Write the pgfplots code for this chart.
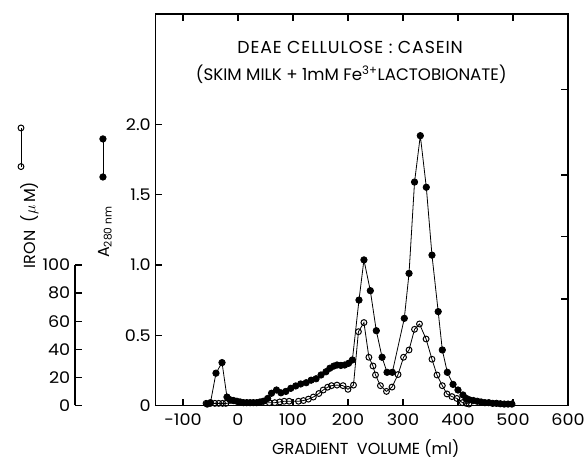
\documentclass[border=0pt]{standalone}
\usepackage{pgfplots}
\usepackage{pgfplotstable}
\pgfplotsset{compat=1.18}
\usepackage{fontspec}
\setmainfont{Poppins}
\newfontfamily\tickfont{Poppins}[FakeStretch=1.1]
\newfontfamily\titlefont{Poppins}[LetterSpace=5]

\pgfplotstableread{
x y
-56 0.01
-50 0.02
-40 0.23
-29 0.305
-20 0.06
-14 0.04
-8 0.035
-2 0.03
4 0.025
10 0.02
16 0.02
22 0.02
28 0.02
34 0.02
40 0.025
46 0.03
54 0.05
61 0.087
70 0.11
78 0.09
87 0.10
96 0.122
105 0.139
114 0.153
124 0.162
133 0.18
142 0.19
151 0.217
160 0.24
167 0.265
174 0.28
180 0.288
187 0.285
194 0.288
201 0.30
208 0.324
220 0.75
229 1.036
240.6 0.817
251.5 0.532
262 0.343
271 0.236
280.6 0.236
302.4 0.62
311 0.94
321 1.59
331.5 1.92
342.4 1.553
352.7 1.07
364 0.668
371.5 0.395
380.6 0.236
391 0.15
400 0.11
409 0.075
415 0.05
421 0.04
428 0.035
435 0.03
442 0.025
449 0.02
456 0.02
463 0.015
470 0.015
477 0.012
484 0.01
491 0.01
498 0.01
}\absorb

\pgfplotstableread{
x y
-58 1.5
-50 1.5
-42 1.5
-35 1.5
-28 1.5
-22 1.5
57 2
67 2
76 2.5
84 3
93 3
110 3
119 3.5
128 4.5
137 6
147 8.5
155 11
163 13
170 14.1
180 14.5
191 14.1
200 11.5
210 14.5
219 52.5
229 59
238 34.3
245.5 28.1
250 21.7
259 14.1
270 10
280 13.1
291 22
301 34.3
311 39.5
321 54.2
330 58
342 47.3
352.7 32.9
361.8 21.7
371.5 14.1
380 8.2
389 6.3
398 5
408 2
415 1.5
420 1
}\iron

\begin{document}
\begin{tikzpicture}
\useasboundingbox (0,0) rectangle (438pt,345pt);
% main axis
\begin{axis}[
  at={(116.6pt,40.9pt)}, anchor=south west,
  scale only axis, width=309.4pt, height=293.6pt,
  xmin=-150, xmax=600, ymin=0, ymax=2.786,
  clip=false,
  axis line style={line width=0.9pt},
  every tick/.style={line width=0.9pt, black},
  major tick length=5pt,
  tick align=inside,
  xtick={-100,0,100,200,300,400,500,600},
  xticklabels={-100,0,100,200,300,400,500,600},
  ytick={0,0.5,1,1.5,2},
  yticklabels={0,0.5,1.0,1.5,2.0},
  ytick pos=left,
  ticklabel style={font=\tickfont\fontsize{12}{14}\selectfont},
  xticklabel style={yshift=-2.5pt},
  xlabel={GRADIENT\ \ VOLUME (ml)},
  xlabel style={font=\fontsize{12}{14}\selectfont, yshift=-4pt, xshift=3pt},
]
\addplot[black, line width=0.6pt, mark=*, mark size=2.4pt, mark options={fill=black}] table[x=x,y=y] {\absorb};
\addplot[black, line width=0.6pt, mark=o, mark size=2.2pt, mark options={fill=white, line width=0.75pt}] table[x=x,y expr={\thisrow{y}/100}] {\iron};
% legend keys
\addplot[black, line width=0.6pt, mark=o, mark size=2.2pt, mark options={fill=white, line width=0.75pt}, forget plot] coordinates {(-394.5,1.975) (-394.5,1.70)};
\addplot[black, line width=0.6pt, mark=*, mark size=2.4pt, forget plot] coordinates {(-245.5,1.897) (-245.5,1.626)};
\node[font=\titlefont\fontsize{13}{15}\selectfont] at (axis cs:204,2.55) {DEAE CELLULOSE : CASEIN};
\node[font=\fontsize{12.5}{15}\selectfont] at (axis cs:206,2.36) {(SKIM MILK + 1mM\ Fe\textsuperscript{3+}LACTOBIONATE)};
\end{axis}
% right odd ticks
\begin{axis}[
  at={(116.6pt,40.9pt)}, anchor=south west,
  scale only axis, width=309.4pt, height=293.6pt,
  xmin=-150, xmax=600, ymin=0, ymax=2.786,
  hide x axis, axis y line*=right,
  axis line style={line width=0.9pt},
  every tick/.style={line width=0.9pt, black},
  major tick length=5pt, tick align=inside,
  ytick={0.757,1.2,1.64,2.25}, yticklabels={},
]
\end{axis}
% iron axis
\begin{axis}[
  at={(56.25pt,40.9pt)}, anchor=south west,
  scale only axis, width=1pt, height=105.4pt,
  xmin=0, xmax=1, ymin=0, ymax=100,
  hide x axis, axis y line*=left,
  axis line style={line width=0.9pt},
  every tick/.style={line width=0.9pt, black},
  major tick length=5pt, tick align=inside,
  ytick={0,20,40,60,80,100},
  yticklabels={0,20,40,60,80,100},
  ticklabel style={font=\tickfont\fontsize{12}{14}\selectfont},
]
\end{axis}
\node[rotate=90, font=\fontsize{12}{14}\selectfont] at (22pt,176.25pt) {IRON\ \ ($\mu$\,M)};
\node[rotate=90, font=\fontsize{12}{14}\selectfont] at (78.75pt,171pt) {A\textsubscript{\fontsize{8}{9}\selectfont 280 nm}};
\end{tikzpicture}
\end{document}
